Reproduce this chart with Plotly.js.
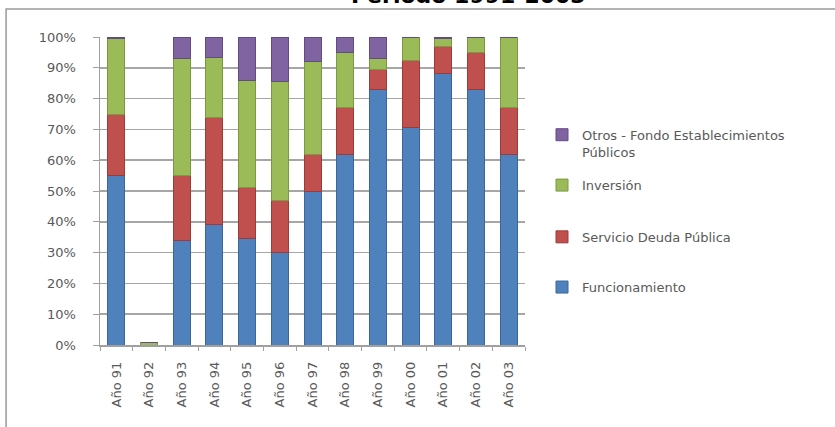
<!DOCTYPE html>
<html>
<head>
<meta charset="utf-8">
<script src="https://cdn.plot.ly/plotly-3.0.1.min.js"></script>
<style>html,body{margin:0;padding:0;background:#fff;}#chart{width:835px;height:427px;}</style>
</head>
<body>
<div id="chart"></div>
<script>
const categories = ['Año 91','Año 92','Año 93','Año 94','Año 95','Año 96','Año 97','Año 98','Año 99','Año 00','Año 01','Año 02','Año 03'];
const funcionamiento = [55, 0, 34, 39, 34.5, 30, 50, 62, 83, 70.5, 88, 83, 62];
const servicioDeuda = [20, 0, 21, 35, 16.5, 17, 12, 15, 6.5, 22, 9, 12, 15];
const inversion = [24.5, 0.8, 38, 19.5, 35, 38.5, 30, 18, 3.5, 7.5, 2.5, 5, 23];
const otros = [0.5, 0, 7, 6.5, 14, 14.5, 8, 5, 7, 0, 0.5, 0, 0];
const yTickValues = [0,10,20,30,40,50,60,70,80,90,100];
const yTickLabels = ['0%','10%','20%','30%','40%','50%','60%','70%','80%','90%','100%'];
const seriesNames = ['Funcionamiento','Servicio Deuda Pública','Inversión','Otros - Fondo Establecimientos<br>Públicos'];
const titleText = 'Periodo 1991-2003';

const colors = ['#4F81BD','#C0504D','#9BBB59','#8064A2'];
const sideColors = ['#3A6699','#9C3B38','#7A9A40','#634C85'];
const series = [funcionamiento, servicioDeuda, inversion, otros];
const legendIds = ['legend','legend2','legend3','legend4'];
const legendY = [0.188, 0.351, 0.519, 0.655];

const FONT = 'DejaVu Sans, Verdana, sans-serif';
const GREY = '#595959';

const traces = series.map((vals, i) => ({
  type: 'bar',
  name: seriesNames[i],
  x: categories,
  y: vals,
  legend: legendIds[i],
  marker: {color: colors[i], line: {color: sideColors[i], width: 1}},
  hoverinfo: 'x+y+name'
}));

const layout = {
  width: 835,
  height: 427,
  margin: {l: 100, r: 310, t: 37, b: 82},
  paper_bgcolor: '#ffffff',
  plot_bgcolor: '#ffffff',
  barmode: 'stack',
  bargap: 0.48,
  showlegend: true,
  font: {family: FONT, color: GREY, size: 13},
  xaxis: {
    type: 'category',
    tickangle: -90,
    ticks: 'outside',
    tickson: 'boundaries',
    ticklen: 4,
    tickcolor: '#a0a0a0',
    showline: true,
    linecolor: '#a0a0a0',
    linewidth: 1.5,
    showgrid: false,
    tickfont: {family: FONT, size: 13, color: GREY},
    ticklabelstandoff: 10
  },
  yaxis: {
    range: [0, 100],
    tickvals: yTickValues,
    ticktext: yTickLabels,
    ticks: 'outside',
    ticklen: 6,
    tickcolor: '#a0a0a0',
    showline: true,
    linecolor: '#a0a0a0',
    linewidth: 1.5,
    showgrid: true,
    gridcolor: '#a6a6a6',
    gridwidth: 1.5,
    zeroline: false,
    tickfont: {family: FONT, size: 13, color: GREY},
    ticklabelstandoff: 14
  },
  shapes: [{
    type: 'rect', xref: 'paper', yref: 'paper', layer: 'below',
    x0: -0.221, x1: 1.74, y0: -0.28, y1: 1.091,
    line: {color: '#9a9a9a', width: 1.5}, fillcolor: 'rgba(0,0,0,0)'
  }],
  annotations: [{
    text: titleText, xref: 'paper', yref: 'paper',
    x: 0.866, y: 1.0877, xanchor: 'center', yanchor: 'bottom',
    showarrow: false,
    font: {family: FONT, size: 22, color: '#000000', weight: 'bold'}
  }]
};

legendIds.forEach((id, i) => {
  layout[id] = {
    x: 1.04, y: legendY[i], xanchor: 'left', yanchor: 'middle',
    valign: 'top',
    bgcolor: 'rgba(0,0,0,0)',
    font: {family: FONT, size: 13, color: GREY},
    itemclick: false, itemdoubleclick: false
  };
});

Plotly.newPlot('chart', traces, layout, {displayModeBar: false, staticPlot: true});
</script>
</body>
</html>
